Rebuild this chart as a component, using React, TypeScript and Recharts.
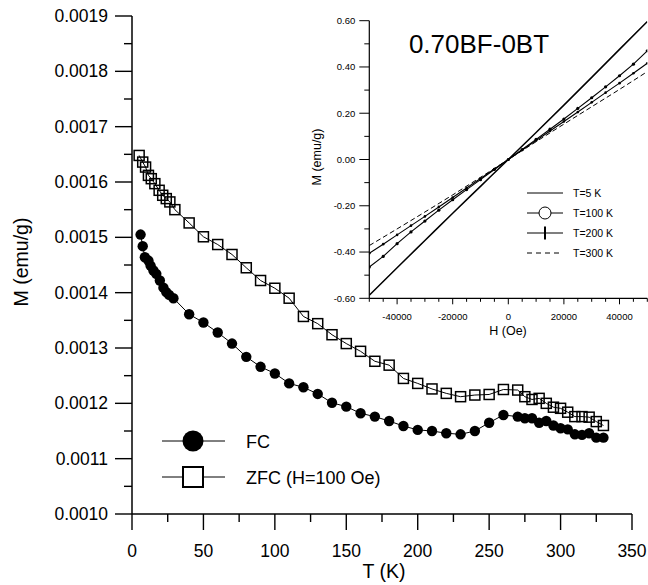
import React from 'react';
import { LineChart, Line, XAxis, YAxis } from 'recharts';

const FONT = '"Liberation Sans", Arial, Helvetica, sans-serif';

// ---------- main chart data (T in K, M in emu/g) ----------
const FC_T = [6, 7.5, 9, 11.5, 13, 15, 17, 19.5, 22, 24, 26, 29, 40, 50, 60, 70, 80, 90, 100, 110, 120, 130, 140, 150, 160, 170, 180, 190, 200, 210, 220, 230, 240, 250, 260, 270, 275, 280, 285, 290, 295, 300, 305, 310, 315, 320, 325, 330];
const FC_M = [0.001505, 0.001484, 0.001464, 0.001458, 0.001449, 0.00144, 0.001434, 0.001422, 0.001409, 0.001401, 0.001396, 0.00139, 0.001361, 0.001346, 0.001328, 0.001308, 0.001284, 0.001266, 0.001254, 0.001236, 0.001229, 0.001217, 0.001201, 0.001194, 0.001182, 0.001176, 0.001168, 0.001159, 0.001152, 0.00115, 0.001146, 0.001144, 0.00115, 0.001165, 0.001179, 0.001176, 0.001173, 0.001173, 0.001165, 0.001168, 0.00116, 0.001155, 0.001153, 0.001144, 0.001143, 0.001146, 0.001138, 0.001138];

const ZFC_T = [5, 7.5, 9.5, 11.5, 13.5, 16, 19, 21.5, 24, 26.5, 30, 40, 50, 60, 70, 80, 90, 100, 110, 120, 130, 140, 150, 160, 170, 180, 190, 200, 210, 220, 230, 240, 250, 260, 270, 275, 280, 285, 290, 295, 300, 305, 310, 315, 320, 325, 330];
const ZFC_M = [0.001648, 0.001636, 0.001627, 0.001612, 0.001606, 0.001597, 0.001585, 0.001576, 0.00157, 0.001564, 0.00155, 0.001526, 0.001501, 0.001487, 0.001469, 0.001445, 0.001422, 0.001408, 0.00139, 0.001357, 0.001344, 0.001324, 0.001308, 0.001294, 0.001276, 0.001269, 0.001245, 0.001236, 0.001226, 0.001218, 0.001212, 0.001215, 0.001216, 0.001225, 0.001224, 0.001212, 0.001207, 0.001209, 0.0012, 0.001193, 0.001191, 0.001184, 0.001176, 0.001176, 0.001175, 0.001167, 0.00116];

const MAIN_X_TICKS = [0, 25, 50, 75, 100, 125, 150, 175, 200, 225, 250, 275, 300, 325, 350];
const MAIN_Y_TICKS = [0.001, 0.00105, 0.0011, 0.00115, 0.0012, 0.00125, 0.0013, 0.00135, 0.0014, 0.00145, 0.0015, 0.00155, 0.0016, 0.00165, 0.0017, 0.00175, 0.0018, 0.00185, 0.0019];

// ---------- inset data (H in Oe, M in emu/g) ----------
const H_5K = [-50000, -40000, -30000, -20000, -10000, 0, 10000, 20000, 30000, 40000, 50000];
const M_5K = [-0.587, -0.468, -0.35, -0.232, -0.116, 0, 0.117, 0.235, 0.355, 0.476, 0.596];

const H_STEP = [-50000, -45000, -40000, -35000, -30000, -25000, -20000, -15000, -10000, -5000, 0, 5000, 10000, 15000, 20000, 25000, 30000, 35000, 40000, 45000, 50000];
const M_100K = [-0.465, -0.419, -0.364, -0.313, -0.266, -0.219, -0.174, -0.13, -0.087, -0.043, 0, 0.043, 0.087, 0.131, 0.175, 0.221, 0.267, 0.314, 0.362, 0.412, 0.47];
const M_200K = [-0.405, -0.366, -0.326, -0.286, -0.246, -0.205, -0.164, -0.123, -0.082, -0.041, 0, 0.041, 0.082, 0.123, 0.164, 0.205, 0.247, 0.289, 0.33, 0.373, 0.416];

const H_300K = [-50000, -40000, -30000, -20000, -10000, 0, 10000, 20000, 30000, 40000, 50000];
const M_300K = [-0.372, -0.3, -0.227, -0.153, -0.077, 0, 0.077, 0.153, 0.228, 0.303, 0.38];

const INSET_X_TICKS = [-50000, -45000, -40000, -35000, -30000, -25000, -20000, -15000, -10000, -5000, 0, 5000, 10000, 15000, 20000, 25000, 30000, 35000, 40000, 45000, 50000];
const INSET_X_LABELS = [-40000, -20000, 0, 20000, 40000];
const INSET_Y_TICKS = [-0.6, -0.5, -0.4, -0.3, -0.2, -0.1, 0, 0.1, 0.2, 0.3, 0.4, 0.5, 0.6];

const fcData = FC_T.map((t, i) => ({ t, m: FC_M[i] }));
const zfcData = ZFC_T.map((t, i) => ({ t, m: ZFC_M[i] }));
const d5 = H_5K.map((h, i) => ({ h, m: M_5K[i] }));
const d100 = H_STEP.map((h, i) => ({ h, m: M_100K[i] }));
const d200 = H_STEP.map((h, i) => ({ h, m: M_200K[i] }));
const d300 = H_300K.map((h, i) => ({ h, m: M_300K[i] }));

// ---------- tick renderers ----------
const MainXTick = (props: any) => {
  const { x, y, payload } = props;
  const v = payload.value;
  const major = v % 50 === 0;
  return (
    <g>
      <line x1={x} x2={x} y1={y} y2={y + (major ? 16 : 8)} stroke="#000" strokeWidth={1.4} />
      {major && (
        <text x={x} y={y + 43} textAnchor="middle" fontSize={17.5} fontFamily={FONT} fill="#000">
          {v}
        </text>
      )}
    </g>
  );
};

const MainYTick = (props: any) => {
  const { x, y, payload } = props;
  const v = payload.value;
  const major = Math.round(v * 1e5) % 10 === 0;
  return (
    <g>
      <line x1={x - (major ? 17 : 8)} x2={x} y1={y} y2={y} stroke="#000" strokeWidth={1.4} />
      {major && (
        <text x={x - 24} y={y + 6} textAnchor="end" fontSize={17.5} fontFamily={FONT} fill="#000">
          {v.toFixed(4)}
        </text>
      )}
    </g>
  );
};

const InsetXTick = (props: any) => {
  const { x, y, payload } = props;
  const v = payload.value;
  const labeled = INSET_X_LABELS.indexOf(v) >= 0;
  return (
    <g>
      <line x1={x} x2={x} y1={y} y2={y + (labeled ? 6 : 3.5)} stroke="#000" strokeWidth={1} />
      {labeled && (
        <text x={x} y={y + 21.5} textAnchor="middle" fontSize={9.5} fontFamily={FONT} fill="#000">
          {v}
        </text>
      )}
    </g>
  );
};

const InsetYTick = (props: any) => {
  const { x, y, payload } = props;
  const v = payload.value;
  const major = Math.round(v * 10) % 2 === 0;
  return (
    <g>
      <line x1={x - (major ? 10 : 5)} x2={x} y1={y} y2={y} stroke="#000" strokeWidth={1} />
      {major && (
        <text x={x - 14} y={y + 3.3} textAnchor="end" fontSize={9.5} fontFamily={FONT} fill="#000">
          {v.toFixed(2)}
        </text>
      )}
    </g>
  );
};

const SquareDot = (props: any) => {
  const { cx, cy, index } = props;
  if (cx == null || cy == null) return <g key={index} />;
  return <rect key={index} x={cx - 5} y={cy - 5} width={10} height={10} fill="none" stroke="#000" strokeWidth={1.5} />;
};

const CircleDot = (props: any) => {
  const { cx, cy, index } = props;
  if (cx == null || cy == null) return <g key={index} />;
  return <circle key={index} cx={cx} cy={cy} r={5.2} fill="#000" stroke="none" />;
};

export default function App() {
  return (
    <div style={{ position: 'absolute', left: 0, top: 0, width: 648, height: 585, background: '#fff' }}>
      <div style={{ position: 'absolute', left: 0, top: 0 }}>
        <LineChart width={648} height={585} margin={{ top: 16, right: 16, bottom: 0, left: 0 }}>
          <XAxis
            type="number"
            dataKey="t"
            domain={[0, 350]}
            ticks={MAIN_X_TICKS}
            interval={0}
            height={71}
            tickSize={0}
            tickMargin={0}
            tickLine={false}
            tick={<MainXTick />}
            axisLine={{ stroke: '#000', strokeWidth: 1.5 }}
            allowDataOverflow
          />
          <YAxis
            type="number"
            dataKey="m"
            domain={[0.001, 0.0019]}
            ticks={MAIN_Y_TICKS}
            interval={0}
            width={132}
            tickSize={0}
            tickMargin={0}
            tickLine={false}
            tick={<MainYTick />}
            axisLine={{ stroke: '#000', strokeWidth: 1.5 }}
            allowDataOverflow
          />
          <Line data={fcData} dataKey="m" type="linear" stroke="#000" strokeWidth={1} dot={CircleDot} activeDot={false} isAnimationActive={false} />
          <Line data={zfcData} dataKey="m" type="linear" stroke="#000" strokeWidth={1} dot={SquareDot} activeDot={false} isAnimationActive={false} />
        </LineChart>
      </div>

      <div style={{ position: 'absolute', left: 0, top: 0 }}>
        <LineChart width={648} height={340} margin={{ top: 20.7, right: 0.7, bottom: 0, left: 0 }}>
          <XAxis
            type="number"
            dataKey="h"
            domain={[-50000, 50000]}
            ticks={INSET_X_TICKS}
            interval={0}
            height={41.7}
            tickSize={0}
            tickMargin={0}
            tickLine={false}
            tick={<InsetXTick />}
            axisLine={{ stroke: '#000', strokeWidth: 1.2 }}
            allowDataOverflow
          />
          <YAxis
            type="number"
            dataKey="m"
            domain={[-0.6, 0.6]}
            ticks={INSET_Y_TICKS}
            interval={0}
            width={369.3}
            tickSize={0}
            tickMargin={0}
            tickLine={false}
            tick={<InsetYTick />}
            axisLine={{ stroke: '#000', strokeWidth: 1.2 }}
            allowDataOverflow
          />
          <Line data={d5} dataKey="m" type="monotone" stroke="#000" strokeWidth={1.5} dot={false} activeDot={false} isAnimationActive={false} />
          <Line data={d100} dataKey="m" type="linear" stroke="#000" strokeWidth={1.1} dot={{ r: 1.6, fill: '#000', stroke: 'none' }} activeDot={false} isAnimationActive={false} />
          <Line data={d200} dataKey="m" type="linear" stroke="#000" strokeWidth={1.1} dot={{ r: 1.3, fill: '#000', stroke: 'none' }} activeDot={false} isAnimationActive={false} />
          <Line data={d300} dataKey="m" type="monotone" stroke="#000" strokeWidth={1} strokeDasharray="5 3" dot={false} activeDot={false} isAnimationActive={false} />
        </LineChart>
      </div>

      <svg width={648} height={585} style={{ position: 'absolute', left: 0, top: 0, pointerEvents: 'none' }}>
        {/* main axis titles */}
        <text transform="translate(28,262) rotate(-90)" textAnchor="middle" fontSize={19.5} fontFamily={FONT} fill="#000">
          M (emu/g)
        </text>
        <text x={384} y={578} textAnchor="middle" fontSize={19.5} fontFamily={FONT} fill="#000">
          T (K)
        </text>

        {/* main legend */}
        <line x1={162} x2={225} y1={441} y2={441} stroke="#000" strokeWidth={1} />
        <circle cx={193} cy={441} r={10.5} fill="#000" />
        <text x={246} y={447.5} fontSize={18} fontFamily={FONT} fill="#000">FC</text>
        <line x1={162} x2={225} y1={477} y2={477} stroke="#000" strokeWidth={1} />
        <rect x={183} y={467} width={20} height={20} fill="#fff" stroke="#000" strokeWidth={2} />
        <text x={246} y={483.5} fontSize={18} fontFamily={FONT} fill="#000">ZFC (H=100 Oe)</text>

        {/* inset titles */}
        <text x={479} y={53} textAnchor="middle" fontSize={26} fontFamily={FONT} fill="#000">0.70BF-0BT</text>
        <text transform="translate(321,157) rotate(-90)" textAnchor="middle" fontSize={12.5} fontFamily={FONT} fill="#000">
          M (emu/g)
        </text>
        <text x={508} y={335} textAnchor="middle" fontSize={12.5} fontFamily={FONT} fill="#000">H (Oe)</text>

        {/* inset legend */}
        <line x1={527} x2={563} y1={193} y2={193} stroke="#000" strokeWidth={1} />
        <text x={573} y={197} fontSize={10.5} fontFamily={FONT} fill="#000">T=5 K</text>
        <line x1={527} x2={563} y1={213} y2={213} stroke="#000" strokeWidth={1} />
        <circle cx={545} cy={213} r={6} fill="#fff" stroke="#000" strokeWidth={1} />
        <text x={573} y={217} fontSize={10.5} fontFamily={FONT} fill="#000">T=100 K</text>
        <line x1={527} x2={563} y1={233} y2={233} stroke="#000" strokeWidth={1.2} />
        <line x1={545} x2={545} y1={226.5} y2={239.5} stroke="#000" strokeWidth={2} />
        <text x={573} y={237} fontSize={10.5} fontFamily={FONT} fill="#000">T=200 K</text>
        <line x1={527} x2={563} y1={253} y2={253} stroke="#000" strokeWidth={1} strokeDasharray="5 4" />
        <text x={573} y={257} fontSize={10.5} fontFamily={FONT} fill="#000">T=300 K</text>
      </svg>
    </div>
  );
}
